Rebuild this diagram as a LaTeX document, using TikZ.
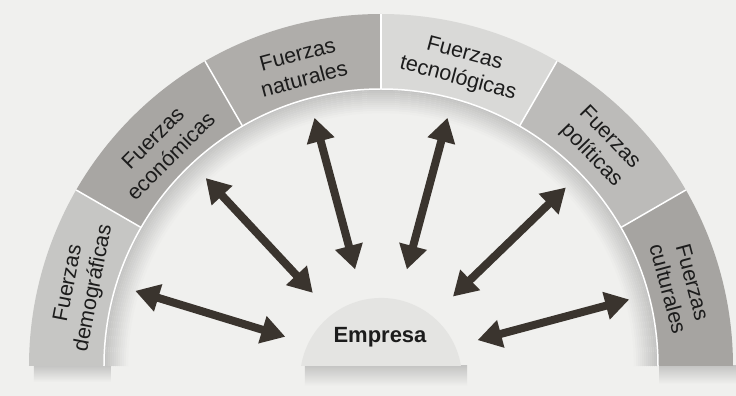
\documentclass[tikz,border=0pt]{standalone}
\usepackage{fontspec}
\setsansfont{Liberation Sans}
\usetikzlibrary{arrows.meta}
\definecolor{fondo}{RGB}{240,240,238}
\definecolor{demo}{RGB}{198,198,196}
\definecolor{econ}{RGB}{168,166,163}
\definecolor{natu}{RGB}{175,173,170}
\definecolor{tecno}{RGB}{217,217,215}
\definecolor{poli}{RGB}{188,187,185}
\definecolor{cult}{RGB}{166,164,161}
\definecolor{domo}{RGB}{228,228,226}
\definecolor{flecha}{RGB}{58,52,46}
\definecolor{texto}{RGB}{28,28,28}
\tikzset{
  fuerza/.style={{Triangle[length=24pt,width=27pt]}-{Triangle[length=24pt,width=27pt]}, line width=8pt, color=flecha},
  etiqueta/.style={align=center, text=texto, font=\sffamily\fontsize{21.5}{25.5}\selectfont},
  sombra/.style={top color=gray!38!fondo, bottom color=fondo}
}
\begin{document}
\begin{tikzpicture}[x=1pt, y=1pt]
\newcommand{\radioext}{352}
\newcommand{\radioint}{277}

\fill[fondo] (-381,-30) rectangle (355,366);
\useasboundingbox (-381,-30) rectangle (355,366);

\shade[sombra] (-347,0) rectangle (-270,-16);
\shade[sombra] (278,0) rectangle (355,-18);
\shade[sombra] (-76,0) rectangle (86,-20);

\foreach \k [evaluate=\k as \p using 40-3.4*\k] in {0,...,11}
  \draw[gray!\p!fondo, line width=2.2] ({0}:{\radioint-1-2*\k}) arc[start angle=0, end angle=180, radius={\radioint-1-2*\k}];

\foreach \a/\c in {180/demo,150/econ,120/natu,90/tecno,60/poli,30/cult}
  \fill[\c] (\a:\radioint) arc[start angle=\a, end angle=\a-30, radius=\radioint]
    -- ({\a-30}:\radioext) arc[start angle=\a-30, end angle=\a, radius=\radioext] -- cycle;
\foreach \a in {150,120,90,60,30}
  \draw[white, line width=1.5] (\a:\radioint) -- (\a:\radioext);
\draw[white, line width=1.5] (0:\radioint) arc[start angle=0, end angle=180, radius=\radioint];

\foreach \a/\r/\n/\t in {165/79/demograficas/{Fuerzas\\demográficas}, 135/45/economicas/{Fuerzas\\económicas},
    105/15/naturales/{Fuerzas\\naturales}, 75/-15/tecnologicas/{Fuerzas\\tecnológicas},
    45/-46/politicas/{Fuerzas\\políticas}, 15/-75/culturales/{Fuerzas\\culturales}}
  \node[etiqueta, rotate=\r] (\n) at (\a:310) {\t};

\fill[domo] (80,0) arc[start angle=9.2, end angle=170.8, radius=81] -- cycle;
\node[text=texto, font=\sffamily\bfseries\fontsize{22}{26}\selectfont] (empresa) at (-1,29) {Empresa};

\foreach \a [count=\i] in {163,133,105,75,44,15} {
  \coordinate (emp-\i) at (\a:100);
  \coordinate (fza-\i) at (\a:257);
  \draw[fuerza] (emp-\i) -- (fza-\i);
}
\end{tikzpicture}
\end{document}
